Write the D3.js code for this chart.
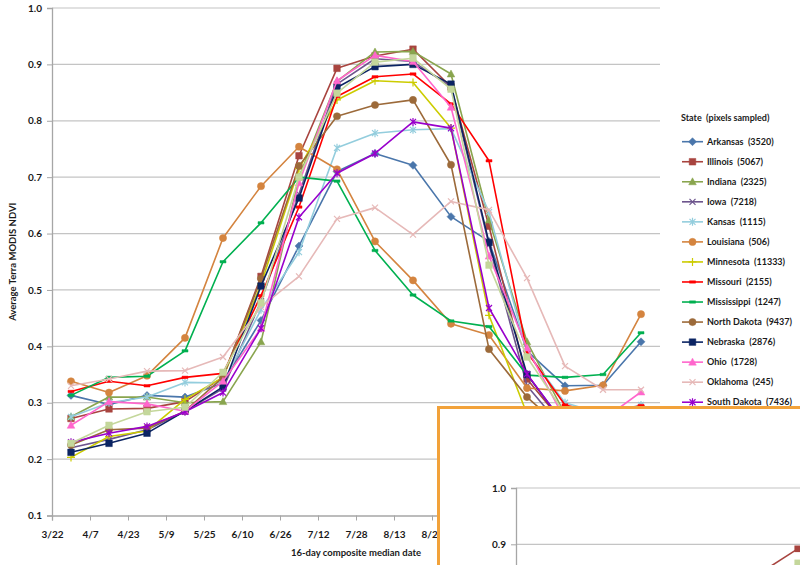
<!DOCTYPE html>
<html><head><meta charset="utf-8">
<script src="https://cdn.jsdelivr.net/npm/d3@7"></script>
<style>
body{margin:0;background:#fff}
svg text{font-family:Lato,"Liberation Sans",Arial,sans-serif;font-weight:bold;fill:#1a1a1a}
</style>
</head><body>
<svg id="chart" width="800" height="565"></svg>
<script>
// ---------- DATA ----------
const compositeDates = ["3/30","4/15","5/1","5/17","6/2","6/18","7/4","7/20","8/5","8/21","9/6","9/22","10/8","10/24","11/9","11/25"];
const tickLabels = ["3/22","4/7","4/23","5/9","5/25","6/10","6/26","7/12","7/28","8/13","8/29","9/14","9/30","10/16","11/1","11/17","12/3"];
const yTicks = [0.1,0.2,0.3,0.4,0.5,0.6,0.7,0.8,0.9,1.0];

const stateNames = ["Arkansas  (3520)","Illinois  (5067)","Indiana  (2325)","Iowa  (7218)","Kansas  (1115)","Louisiana  (506)","Minnesota  (11333)","Missouri  (2155)","Mississippi  (1247)","North Dakota  (9437)","Nebraska  (2876)","Ohio  (1728)","Oklahoma  (245)","South Dakota  (7436)","Wisconsin"];
const stateColors = ["#4a76ab","#a8443f","#89a54e","#6d558d","#93cddd","#d4843f","#cccc00","#ff0000","#00b050","#9c6a3a","#0b2463","#ff66cc","#e6b9b8","#9900cc","#c4d79b"];
const stateMarkers = ["diamond","square","triangle","x","star","circle","plus","dash","dash","circle","square","triangle","x","star","square"];

const arkansas    = [0.313,0.297,0.313,0.310,0.335,0.446,0.578,0.710,0.742,0.721,0.630,0.586,0.392,0.330,0.331,0.408];
const illinois    = [0.272,0.289,0.290,0.302,0.345,0.524,0.738,0.893,0.915,0.927,0.860,0.613,0.342,0.260,0.265,0.290];
const indiana     = [0.275,0.310,0.310,0.300,0.302,0.408,0.700,0.870,0.922,0.923,0.883,0.624,0.408,0.280,0.275,0.280];
const iowa        = [0.220,0.235,0.252,0.285,0.325,0.480,0.670,0.865,0.910,0.905,0.860,0.580,0.330,0.250,0.250,0.260];
const kansas      = [0.275,0.300,0.310,0.336,0.335,0.465,0.567,0.752,0.778,0.784,0.786,0.638,0.390,0.300,0.280,0.296];
const louisiana   = [0.338,0.318,0.348,0.415,0.592,0.684,0.754,0.714,0.586,0.517,0.440,0.420,0.326,0.321,0.331,0.457];
const minnesota   = [0.203,0.240,0.250,0.306,0.345,0.510,0.715,0.837,0.871,0.868,0.787,0.455,0.280,0.240,0.240,0.250];
const missouri    = [0.320,0.338,0.330,0.345,0.352,0.490,0.647,0.843,0.878,0.883,0.830,0.729,0.390,0.296,0.280,0.295];
const mississippi = [0.313,0.345,0.347,0.392,0.550,0.619,0.700,0.693,0.570,0.491,0.445,0.435,0.349,0.345,0.350,0.424];
const northDakota = [0.225,0.252,0.255,0.285,0.345,0.520,0.720,0.808,0.828,0.837,0.722,0.395,0.310,0.250,0.240,0.240];
const nebraska    = [0.212,0.228,0.246,0.285,0.328,0.507,0.663,0.859,0.896,0.900,0.865,0.584,0.350,0.260,0.260,0.270];
const ohio        = [0.260,0.302,0.298,0.285,0.338,0.432,0.690,0.871,0.916,0.905,0.824,0.560,0.397,0.270,0.270,0.319];
const oklahoma    = [0.330,0.342,0.356,0.357,0.381,0.470,0.524,0.626,0.646,0.598,0.657,0.642,0.521,0.365,0.323,0.323];
const southDakota = [0.230,0.246,0.258,0.284,0.318,0.432,0.629,0.707,0.742,0.798,0.787,0.468,0.351,0.260,0.255,0.260];
const wisconsin   = [0.228,0.260,0.284,0.292,0.354,0.477,0.700,0.849,0.904,0.911,0.856,0.544,0.381,0.280,0.270,0.280];

const seriesValues = [arkansas,illinois,indiana,iowa,kansas,louisiana,minnesota,missouri,mississippi,northDakota,nebraska,ohio,oklahoma,southDakota,wisconsin];
const legendCount = 14; // entries visible above the overlapping inset

// overlapping inset chart (only a corner of it is visible)
const insetTicks = [1.0, 0.9];
const insetDates = ["7/4","7/20"];
const insetIllinois = [0.849, 0.892];
const insetWisconsin = [0.800, 0.867];

// ---------- DRAW ----------
const parse = d3.timeParse("%m/%d");
const svg = d3.select("#chart");
svg.append("rect").attr("width",800).attr("height",565).attr("fill","#fff");

const m = {left:52, right:660, top:8, bottom:515.5};
const x = d3.scaleTime().domain([parse(tickLabels[0]), parse(tickLabels[tickLabels.length-1])]).range([m.left, m.right]);
const y = d3.scaleLinear().domain([0.1,1.0]).range([m.bottom, m.top]);

function markerPath(type){
  const p = d3.path();
  switch(type){
    case "diamond": p.moveTo(0,-4);p.lineTo(4,0);p.lineTo(0,4);p.lineTo(-4,0);p.closePath();break;
    case "square": p.rect(-3.3,-3.3,6.6,6.6);break;
    case "triangle": p.moveTo(0,-4);p.lineTo(3.8,3);p.lineTo(-3.8,3);p.closePath();break;
    case "circle": p.arc(0,0,3.6,0,2*Math.PI);break;
    case "x": p.moveTo(-3,-3);p.lineTo(3,3);p.moveTo(3,-3);p.lineTo(-3,3);break;
    case "star": p.moveTo(-3,-3);p.lineTo(3,3);p.moveTo(3,-3);p.lineTo(-3,3);p.moveTo(0,-4);p.lineTo(0,4);break;
    case "plus": p.moveTo(0,-4);p.lineTo(0,4);p.moveTo(-4,0);p.lineTo(4,0);break;
    case "dash": p.rect(-3,-1.2,6,2.4);break;
  }
  return p.toString();
}
const filled = t => ["diamond","square","triangle","circle","dash"].includes(t);

function drawAxes(g, xs, ys, yt, showX, gridRight){
  // gridlines
  g.append("g").selectAll("line").data(yt.filter(v=>v>0.1+1e-9)).join("line")
    .attr("x1",xs.range()[0]).attr("x2",gridRight).attr("y1",d=>ys(d)).attr("y2",d=>ys(d))
    .attr("stroke","#c4c4c4").attr("stroke-width",1.2);
  const ya = g.append("g").attr("transform",`translate(${xs.range()[0]},0)`)
    .call(d3.axisLeft(ys).tickValues(yt).tickFormat(d3.format(".1f")).tickSize(5).tickPadding(5));
  ya.select(".domain").attr("stroke","#a6a6a6").attr("stroke-width",1.3);
  ya.selectAll(".tick line").attr("stroke","#a6a6a6");
  ya.selectAll("text").style("font-size","10px").attr("fill","#1a1a1a");
  if(showX){
    const xa = g.append("g").attr("transform",`translate(0,${ys.range()[0]})`)
      .call(d3.axisBottom(xs).tickValues(tickLabels.map(parse)).tickFormat((d,i)=>tickLabels[i]).tickSize(5).tickPadding(10));
    xa.select(".domain").attr("stroke","#a6a6a6").attr("stroke-width",1.3);
    xa.selectAll(".tick line").attr("stroke","#a6a6a6");
    xa.selectAll("text").style("font-size","10px").attr("fill","#1a1a1a");
  }
}

const main = svg.append("g");
drawAxes(main, x, y, yTicks, true, m.right);

const line = d3.line().x((d,i)=>x(parse(compositeDates[i]))).y(d=>y(d));
seriesValues.forEach((vals,si)=>{
  const col = stateColors[si], mk = stateMarkers[si];
  const g = main.append("g");
  g.append("path").datum(vals).attr("d",line).attr("fill","none").attr("stroke",col).attr("stroke-width",1.6).attr("stroke-linejoin","round");
  g.selectAll("path.mk").data(vals).join("path").attr("class","mk")
    .attr("transform",(d,i)=>`translate(${x(parse(compositeDates[i]))},${y(d)})`)
    .attr("d",markerPath(mk))
    .attr("fill",filled(mk)?col:"none").attr("stroke",col).attr("stroke-width",filled(mk)?0.5:1.2);
});

// axis titles
main.append("text").attr("x",(m.left+m.right)/2).attr("y",556).attr("text-anchor","middle")
  .style("font-size","9.5px").text("16-day composite median date");
main.append("text").attr("transform",`translate(16,${(m.top+m.bottom)/2}) rotate(-90)`).attr("text-anchor","middle")
  .style("font-size","9.5px").text("Average Terra MODIS NDVI");

// legend
const lg = svg.append("g");
lg.append("text").attr("x",681).attr("y",121).style("font-size","9px").attr("xml:space","preserve").style("white-space","pre").text("State  (pixels sampled)");
stateNames.slice(0,legendCount).forEach((name,i)=>{
  const cy = 141.7 + i*20.04;
  const col = stateColors[i], mk = stateMarkers[i];
  lg.append("line").attr("x1",682).attr("x2",703).attr("y1",cy).attr("y2",cy).attr("stroke",col).attr("stroke-width",1.6);
  lg.append("path").attr("transform",`translate(692.5,${cy})`).attr("d",markerPath(mk))
    .attr("fill",filled(mk)?col:"none").attr("stroke",col).attr("stroke-width",filled(mk)?0.5:1.2);
  lg.append("text").attr("x",707).attr("y",cy).attr("dy","0.35em").style("font-size","9px").style("white-space","pre").text(name);
});

// ---------- overlapping inset ----------
const inset = svg.append("g");
inset.append("rect").attr("x",438.5).attr("y",407.5).attr("width",400).attr("height",200)
  .attr("fill","#fff").attr("stroke","#f2a23a").attr("stroke-width",3);
const ix = d3.scaleTime().domain(x.domain()).range([516, 1117]);
const iy = d3.scaleLinear().domain([0.1,1.0]).range([488+9*56.3, 488]);
drawAxes(inset, ix, iy, insetTicks, false, 800);
inset.select(".tick:first-of-type"); 
const iline = d3.line().x((d,i)=>ix(parse(insetDates[i]))).y(d=>iy(d));
[[insetWisconsin,14],[insetIllinois,1]].forEach(([vals,si])=>{
  const col = stateColors[si], mk = stateMarkers[si];
  inset.append("path").datum(vals).attr("d",iline).attr("fill","none").attr("stroke",col).attr("stroke-width",1.6);
  inset.selectAll(null).data(vals).join("path")
    .attr("transform",(d,i)=>`translate(${ix(parse(insetDates[i]))},${iy(d)})`)
    .attr("d",markerPath(mk)).attr("fill",col);
});
</script>
</body></html>
